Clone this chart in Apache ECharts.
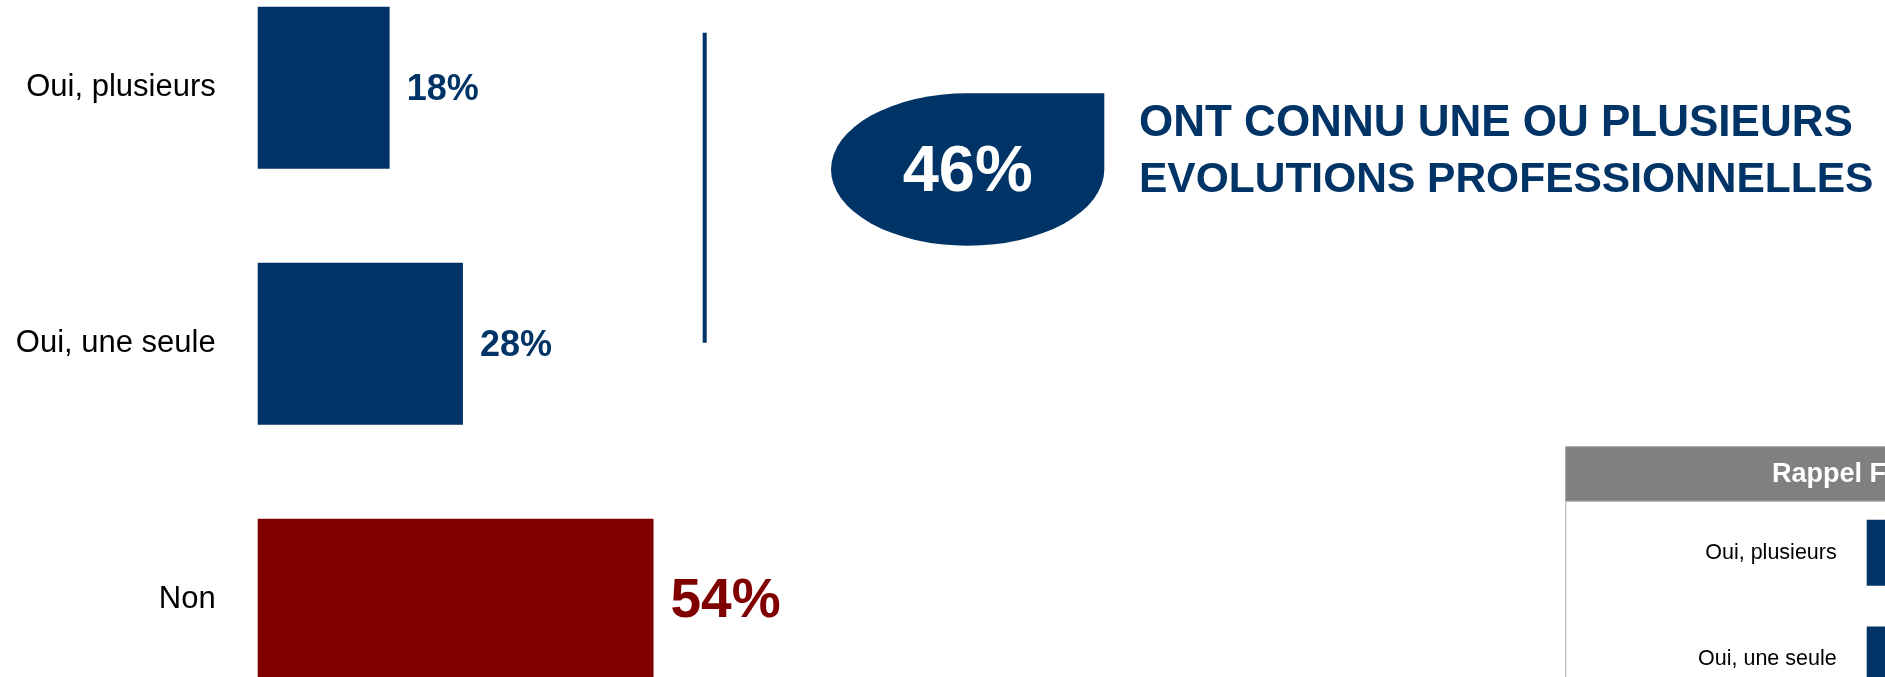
<!DOCTYPE html>
<html>
<head>
<meta charset="utf-8">
<script src="https://cdn.jsdelivr.net/npm/echarts@6/dist/echarts.min.js"></script>
<style>
  html, body { margin: 0; padding: 0; background: #ffffff; }
  #chart { width: 1885px; height: 677px; }
</style>
</head>
<body>
<div id="chart"></div>
<script>
// ---- data ----
const categories = ['Oui, plusieurs', 'Oui, une seule', 'Non'];
const values = [18, 28, 54];
const barColors = ['#003366', '#003366', '#800000'];
const summaryValue = 46;
const summaryLines = ['ONT CONNU UNE OU PLUSIEURS', 'EVOLUTIONS PROFESSIONNELLES'];
const insetTitle = 'Rappel F';
const insetCategories = ['Oui, plusieurs', 'Oui, une seule', 'Non'];
const insetValues = [17, 29, 54];   // estimated, bars are cut by the picture edge
const insetColors = ['#003366', '#003366', '#800000'];

const FONT = '"Liberation Sans", Arial, sans-serif';
const BLUE = '#003366';

const mainData = values.map((v, i) => ({
  value: v,
  itemStyle: { color: barColors[i] },
  label: i === 2
    ? { fontSize: 55, color: barColors[i] }
    : { fontSize: 36, color: barColors[i] }
}));

const insetData = insetValues.map((v, i) => ({ value: v, itemStyle: { color: insetColors[i] } }));

const chart = echarts.init(document.getElementById('chart'), null, { renderer: 'canvas' });

chart.setOption({
  backgroundColor: '#ffffff',
  animation: false,
  grid: [
    { left: 257.7, top: -40.2, width: 733, height: 768, containLabel: false, outerBoundsMode: 'none' },
    { left: 1866.7, top: 499.5, width: 400, height: 320, containLabel: false, outerBoundsMode: 'none' }
  ],
  xAxis: [
    { type: 'value', gridIndex: 0, min: 0, max: 100, show: false },
    { type: 'value', gridIndex: 1, min: 0, max: 100, show: false }
  ],
  yAxis: [
    {
      type: 'category', gridIndex: 0, data: categories, inverse: true,
      axisLine: { show: false }, axisTick: { show: false }, splitLine: { show: false },
      axisLabel: { margin: 42, fontSize: 31, color: '#000000', fontFamily: FONT }
    },
    {
      type: 'category', gridIndex: 1, data: insetCategories, inverse: true,
      axisLine: { show: false }, axisTick: { show: false }, splitLine: { show: false },
      axisLabel: { margin: 30, fontSize: 21.5, color: '#000000', fontFamily: FONT }
    }
  ],
  series: [
    {
      type: 'bar', xAxisIndex: 0, yAxisIndex: 0, data: mainData, barWidth: 162, clip: false,
      label: {
        show: true, position: 'right', distance: 17, formatter: '{c}%', offset: [0, 2],
        fontFamily: FONT, fontWeight: 'bold'
      }
    },
    {
      type: 'bar', xAxisIndex: 1, yAxisIndex: 1, data: insetData, barWidth: 66, clip: false,
      label: { show: false }, z: 3
    }
  ],
  graphic: [
    // separator line
    { type: 'line', shape: { x1: 704.7, y1: 32.7, x2: 704.7, y2: 342.7 },
      style: { stroke: BLUE, lineWidth: 4 } },
    // bubble
    { type: 'rect', x: 831, y: 93.3, scaleX: 273.3 / 152.4, scaleY: 1,
      shape: { x: 0, y: 0, width: 152.4, height: 152.4, r: [76.2, 0, 76.2, 76.2] },
      style: { fill: BLUE } },
    { type: 'text', x: 967.7, y: 173,
      style: { text: summaryValue + '%', fill: '#ffffff', font: 'bold 65px ' + FONT,
               textAlign: 'center', textVerticalAlign: 'middle' } },
    { type: 'text', x: 1139, y: 123.5,
      style: { text: summaryLines[0], fill: BLUE, font: 'bold 44px ' + FONT,
               textAlign: 'left', textVerticalAlign: 'middle' } },
    { type: 'text', x: 1139, y: 180,
      style: { text: summaryLines[1], fill: BLUE, font: 'bold 42.5px ' + FONT,
               textAlign: 'left', textVerticalAlign: 'middle' } },
    // inset box
    { type: 'rect', shape: { x: 1565.7, y: 501, width: 400, height: 300 },
      style: { fill: '#ffffff', stroke: '#c8c8c8', lineWidth: 1.5 }, z: -1 },
    { type: 'rect', shape: { x: 1565.7, y: 446.7, width: 400, height: 54.3 },
      style: { fill: '#808080', stroke: '#a0a0a0', lineWidth: 1 } },
    { type: 'text', x: 1772, y: 475,
      style: { text: insetTitle, fill: '#ffffff', font: 'bold 27px ' + FONT,
               textAlign: 'left', textVerticalAlign: 'middle' } }
  ]
});
</script>
</body>
</html>
